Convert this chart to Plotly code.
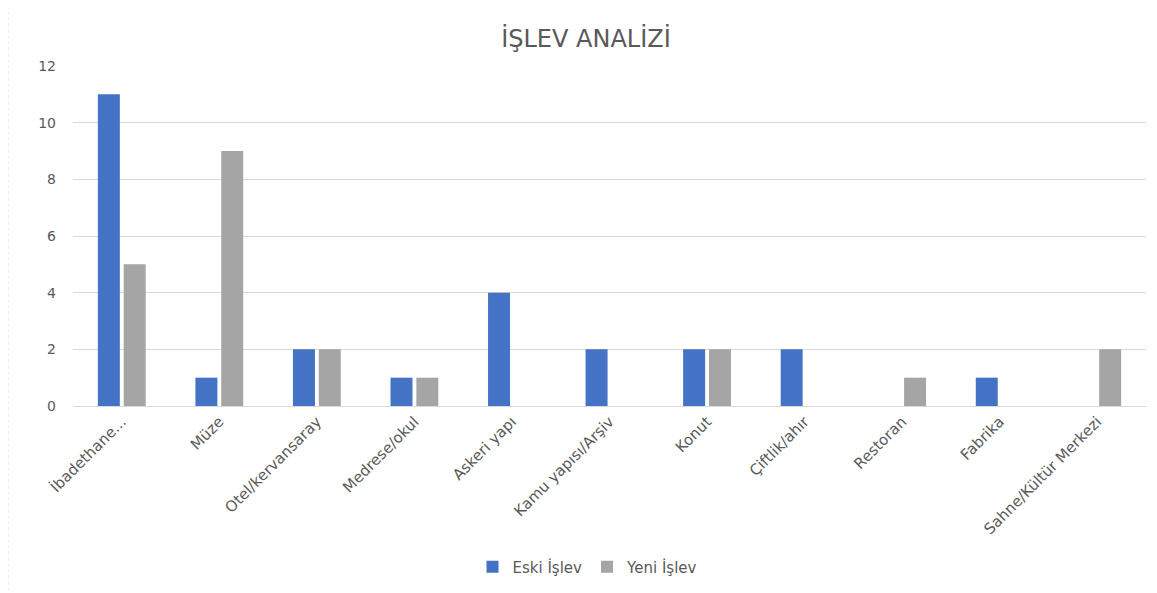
import plotly.graph_objects as go

categories = ["İbadethane...", "Müze", "Otel/kervansaray", "Medrese/okul", "Askeri yapı",
              "Kamu yapısı/Arşiv", "Konut", "Çiftlik/ahır", "Restoran", "Fabrika",
              "Sahne/Kültür Merkezi"]
eski = [11, 1, 2, 1, 4, 2, 2, 2, 0, 1, 0]
yeni = [5, 9, 2, 1, 0, 0, 2, 0, 1, 0, 2]

OFF = 8  # browser body margin
W, H = 1157 - OFF, 593 - OFF
L, T = 73 - OFF, 66 - OFF
pw, ph = 1073, 341
R, B = W - L - pw, H - T - ph

def px(xp):  # page pixel x -> paper
    return (xp - OFF - L) / pw

def py(yp):  # page pixel y -> paper
    return (T + ph - (yp - OFF)) / ph

font = "DejaVu Sans, sans-serif"
fig = go.Figure()
fig.add_trace(go.Bar(name="Eski İşlev", x=categories, y=eski, marker_color="#4472C4",
                     marker_line_width=0))
fig.add_trace(go.Bar(name="Yeni İşlev", x=categories, y=yeni, marker_color="#A5A5A5",
                     marker_line_width=0))

fig.update_layout(
    width=W, height=H,
    margin=dict(l=L, r=R, t=T, b=B),
    paper_bgcolor="white", plot_bgcolor="white",
    barmode="group", bargap=0.47, bargroupgap=0.15,
    title=dict(text="İŞLEV ANALİZİ", x=(586 - OFF) / W, xanchor="center",
               y=1 - (39 - OFF) / H, yanchor="middle",
               font=dict(family=font, size=24, color="#595959")),
    font=dict(family=font, color="#595959", size=13),
    xaxis=dict(tickangle=-45, showgrid=False, showline=True, linecolor="#d9d9d9",
               tickfont=dict(size=15, color="#595959")),
    yaxis=dict(range=[0, 12], dtick=2, showgrid=True, gridcolor="#d9d9d9", zeroline=False,
               tickfont=dict(size=14, color="#595959"), ticklabelstandoff=16),
    legend=dict(orientation="h", x=px(588), xanchor="center",
                y=py(567), yanchor="middle",
                font=dict(size=15, color="#595959"), itemwidth=30),
    showlegend=True,
)

# chart border (dotted, left and top)
fig.add_shape(type="line", xref="paper", yref="paper", x0=px(8), x1=px(8), y0=py(592), y1=py(6),
              line=dict(color="#d9d9d9", width=1, dash="dot"))
fig.add_shape(type="line", xref="paper", yref="paper", x0=px(8), x1=px(1150), y0=py(6), y1=py(6),
              line=dict(color="#d9d9d9", width=1, dash="dot"))

fig.write_html("out.html")
